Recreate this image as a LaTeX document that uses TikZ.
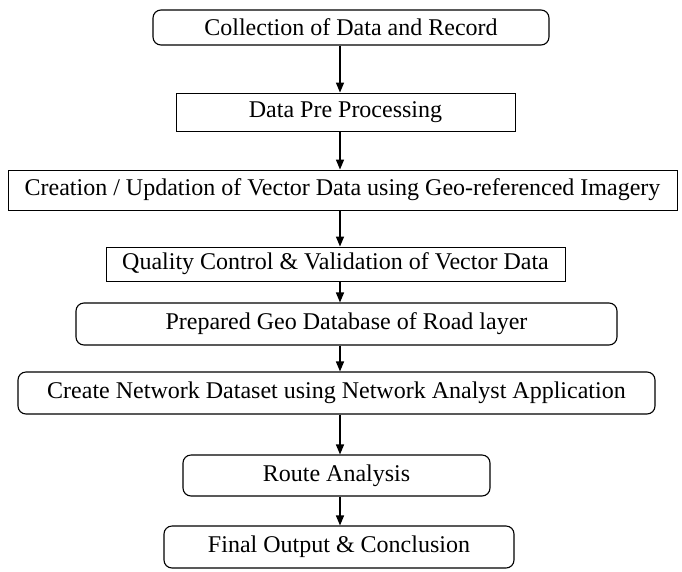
\documentclass[tikz,border=0pt]{standalone}
\usepackage{fontspec}
\setmainfont{Liberation Serif}
\usetikzlibrary{arrows.meta}
\begin{document}
\begin{tikzpicture}[x=1pt,y=-1pt,
  base/.style={draw, line width=0.9pt, inner sep=0pt, anchor=center,
    font=\fontsize{24}{26}\selectfont},
  sqbox/.style={base},
  rndbox/.style={base, rounded corners=8pt, line width=1.1pt},
  arr/.style={-{Triangle[length=10pt,width=8pt]}, line width=1.4pt}]
\useasboundingbox (0,0) rectangle (682,571);
\node[rndbox, minimum width=396pt, minimum height=35pt] (n1) at (351,27.5) {Collection of Data and Record};
\node[sqbox, minimum width=339pt, minimum height=38pt] (n2) at (345.5,112) {Data Pre Processing};
\node[sqbox, minimum width=669pt, minimum height=40pt] (n3) at (342.5,190) {Creation / Updation of Vector Data using Geo-referenced Imagery};
\node[sqbox, minimum width=459pt, minimum height=34pt] (n4) at (335.5,264) {Quality Control \& Validation of Vector Data};
\node[rndbox, minimum width=541pt, minimum height=42pt] (n5) at (346.5,324) {Prepared Geo Database of Road layer};
\node[rndbox, minimum width=637pt, minimum height=42pt] (n6) at (336.5,393) {Create Network Dataset using Network Analyst Application};
\node[rndbox, minimum width=307pt, minimum height=41pt] (n7) at (336.5,475.5) {Route Analysis};
\node[rndbox, minimum width=350pt, minimum height=42pt] (n8) at (339,547) {Final Output \& Conclusion};
\coordinate (ax) at (340,0);
\draw[arr] (n1.south -| ax) -- (n2.north -| ax);
\draw[arr] (n2.south -| ax) -- (n3.north -| ax);
\draw[arr] (n3.south -| ax) -- (n4.north -| ax);
\draw[arr] (n4.south -| ax) -- (n5.north -| ax);
\draw[arr] (n5.south -| ax) -- (n6.north -| ax);
\draw[arr] (n6.south -| ax) -- (n7.north -| ax);
\draw[arr] (n7.south -| ax) -- (n8.north -| ax);
\end{tikzpicture}
\end{document}
